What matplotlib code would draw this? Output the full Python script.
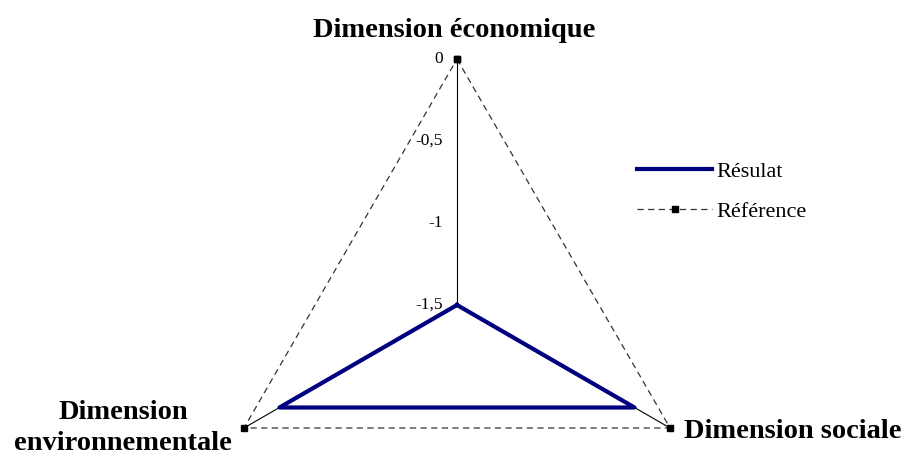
'''
    Radar : trois dimensions
'''
import numpy as np
from matplotlib import pyplot as plt

# Données
dimensions = ['Dimension économique', 'Dimension sociale', 'Dimension\nenvironnementale']
resultat = [-1.5, -0.25, -0.25]
reference = [0, 0, 0]
graduations = [0, -0.5, -1, -1.5]
etiquettes = ['0', '-0,5', '-1', '-1,5']

plt.rcParams['font.family'] = ['Liberation Serif', 'DejaVu Serif']

fig = plt.figure(figsize=(9.06, 4.59), dpi=100)
W, H = 906, 459
cx, cy, R = 457, 305, 246
ax = fig.add_axes([(cx - R) / W, (H - cy - R) / H, 2 * R / W, 2 * R / H], projection='polar')
ax.set_theta_offset(np.pi / 2)
ax.set_theta_direction(-1)
ax.set_ylim(-1.5, 0)
ax.grid(False)
ax.set_xticks([])
ax.set_yticks([])
ax.spines['polar'].set_visible(False)
ax.patch.set_visible(False)

angles = np.linspace(0, 2 * np.pi, len(dimensions), endpoint=False)
boucle = list(angles) + [angles[0]]

# Rayons
for a in angles:
    ax.plot([a, a], [-1.5, 0], color='black', lw=0.8, clip_on=False)

# Séries
ax.plot(boucle, reference + reference[:1], color='#333333', lw=0.9, dashes=(5, 3.5),
        marker='s', markersize=5, markerfacecolor='black', markeredgecolor='black',
        label='Référence', clip_on=False)
ax.plot(boucle, resultat + resultat[:1], color='#000080', lw=3, label='Résulat', clip_on=False)

# Graduations
for g, t in zip(graduations, etiquettes):
    ax.annotate(t, (0, g), xytext=(-14, 0), textcoords='offset pixels',
                ha='right', va='center', fontsize=12.5, annotation_clip=False)

# Noms des dimensions
ax.annotate(dimensions[0], (angles[0], 0), xytext=(-3, 22), textcoords='offset pixels',
            ha='center', va='baseline', fontsize=20.5, fontweight='bold', annotation_clip=False)
ax.annotate(dimensions[1], (angles[1], 0), xytext=(14, -10), textcoords='offset pixels',
            ha='left', va='baseline', fontsize=20.5, fontweight='bold', annotation_clip=False)
ax.annotate(dimensions[2], (angles[2], 0), xytext=(-12, 0), textcoords='offset pixels',
            ha='right', va='center', multialignment='center', fontsize=20.5,
            fontweight='bold', annotation_clip=False, linespacing=1.35)

# Légende
h, l = ax.get_legend_handles_labels()
fig.legend(h[::-1], l[::-1], loc='upper left', bbox_to_anchor=(637 / W, 1 - 161.5 / H),
           frameon=False, fontsize=16, handlelength=3.38, handletextpad=0.2,
           labelspacing=0.87, borderaxespad=0, borderpad=0)

plt.savefig('out.png', dpi=100)
